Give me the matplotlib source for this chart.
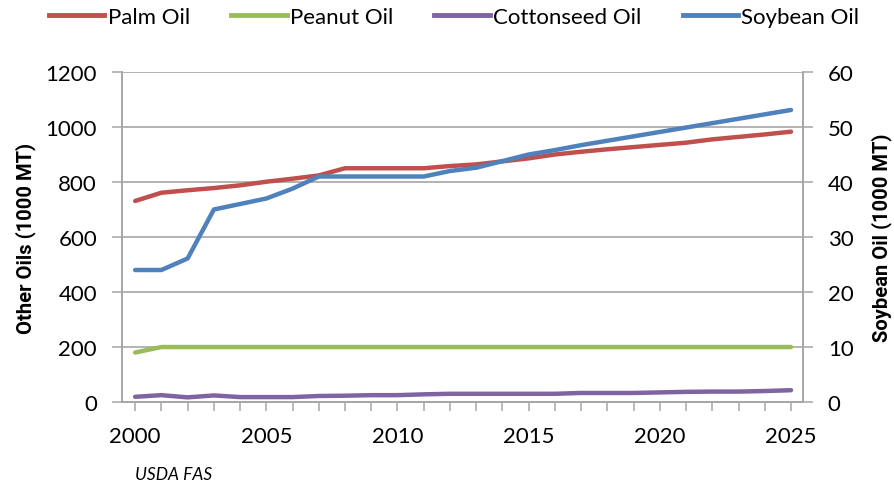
import matplotlib.pyplot as plt
from matplotlib.lines import Line2D

years = list(range(2000, 2026))

palm_oil = [731, 761, 770, 778, 788, 801, 812, 824, 850, 850, 850, 850, 858, 864,
            875, 886, 900, 910, 919, 927, 935, 943, 955, 964, 973, 983]
peanut_oil = [180] + [200] * 25
cottonseed_oil = [19, 25, 17, 24, 18, 18, 18, 22, 23, 25, 25, 28, 30, 30,
                  30, 30, 30, 33, 33, 33, 35, 37, 38, 38, 40, 43]
soybean_oil = [24, 24, 26.1, 35, 36, 37, 38.8, 41, 41, 41, 41, 41, 42, 42.6,
               43.8, 45, 45.8, 46.7, 47.5, 48.3, 49.1, 49.9, 50.7, 51.5, 52.3, 53.1]

c_palm = "#C0504D"
c_peanut = "#9BBB59"
c_cotton = "#8064A2"
c_soy = "#4F81BD"
grid_c = "#A6A6A6"

plt.rcParams["font.family"] = ["Lato", "DejaVu Sans"]

fig = plt.figure(figsize=(8.94, 4.85), dpi=100)
ax = fig.add_axes([0.1365, 0.169, 0.7615, 0.6805])
ax2 = ax.twinx()

lw = 3.2
ax.plot(years, palm_oil, color=c_palm, lw=lw, solid_capstyle="round")
ax.plot(years, peanut_oil, color=c_peanut, lw=lw, solid_capstyle="round")
ax.plot(years, cottonseed_oil, color=c_cotton, lw=lw, solid_capstyle="round")
ax2.plot(years, soybean_oil, color=c_soy, lw=lw, solid_capstyle="round")

ax.set_xlim(1999.5, 2025.45)
ax.set_ylim(0, 1200)
ax2.set_ylim(0, 60)
ax.set_yticks(range(0, 1201, 200))
ax2.set_yticks(range(0, 61, 10))
ax.set_xticks(range(2000, 2026, 5))
ax.set_xticks(years, minor=True)

ax.grid(axis="y", color=grid_c, lw=1.2)
ax.set_axisbelow(True)

for a in (ax, ax2):
    a.spines["top"].set_visible(False)
    for s in ("left", "right", "bottom"):
        a.spines[s].set_color(grid_c)
        a.spines[s].set_linewidth(1.2)
    a.tick_params(axis="both", which="both", color=grid_c, labelsize=16,
                  labelcolor="black", length=7, width=1.1, pad=11)
ax.tick_params(axis="x", which="both", length=6.5, pad=11)

ax.set_ylabel("Other Oils (1000 MT)", fontsize=14.5, fontweight="bold",
              family="Roboto", labelpad=7)
ax2.set_ylabel("Soybean Oil (1000 MT)", fontsize=14.5, fontweight="bold",
               family="Roboto", rotation=90, labelpad=13)

handles = [Line2D([], [], color=c, lw=3.5) for c in (c_palm, c_peanut, c_cotton, c_soy)]
labels = ["Palm Oil", "Peanut Oil", "Cottonseed Oil", "Soybean Oil"]
fig.legend(handles, labels, loc="upper center", bbox_to_anchor=(0.508, 1.025),
           ncol=4, frameon=False, fontsize=16, handlelength=2.5,
           handletextpad=0.15, columnspacing=1.85)

fig.text(0.151, 0.01, "USDA FAS", fontsize=12.5, style="italic")

fig.savefig("out.png", dpi=100)
